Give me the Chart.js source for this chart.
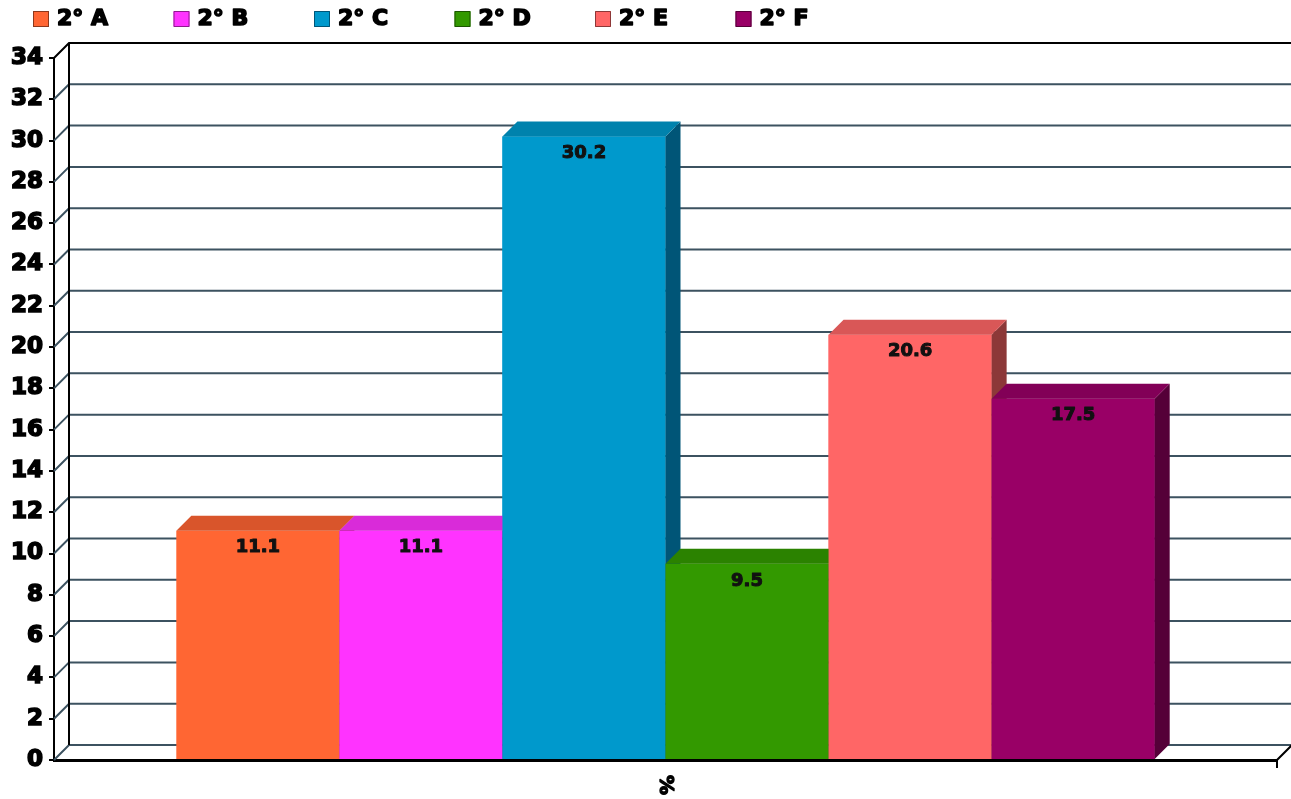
<!DOCTYPE html>
<html>
<head>
<meta charset="utf-8">
<script src="https://cdn.jsdelivr.net/npm/chart.js@4/dist/chart.umd.min.js"></script>
<style>
  html, body { margin: 0; padding: 0; background: #fff; }
  #wrap { width: 1291px; height: 799px; position: relative; }
</style>
</head>
<body>
<div id="wrap"><canvas id="chart"></canvas></div>
<script>
const categories = ['%'];
const groups = ['2° A', '2° B', '2° C', '2° D', '2° E', '2° F'];
const values = [11.1, 11.1, 30.2, 9.5, 20.6, 17.5];
const frontColors = ['#ff6633', '#ff33ff', '#0099cc', '#339900', '#ff6666', '#990066'];
const topColors = ['#d9552b', '#d92bd9', '#0082ad', '#2b8200', '#d95757', '#820057'];
const sideColors = ['#8c381c', '#8c1c8c', '#005577', '#1c5500', '#8c3838', '#550038'];
const yTicks = [0, 2, 4, 6, 8, 10, 12, 14, 16, 18, 20, 22, 24, 26, 28, 30, 32, 34];

const DEPTH = 15;
const FONT = '"DejaVu Sans", sans-serif';

const datasets = groups.map(function(name, i) {
    return {
        label: name,
        data: [values[i]],
        backgroundColor: frontColors[i],
        borderWidth: 0,
        categoryPercentage: 0.8,
        barPercentage: 1.0
    };
});

// heavy text: fill plus a thin stroke of the same colour
function heavyText(ctx, text, x, y, w) {
    ctx.lineWidth = w;
    ctx.lineJoin = 'round';
    ctx.strokeStyle = ctx.fillStyle;
    ctx.strokeText(text, x, y);
    ctx.fillText(text, x, y);
}

// back wall, grid lines and floor, drawn in perspective
const wallPlugin = {
    id: 'wall',
    beforeDatasetsDraw(chart) {
        const ctx = chart.ctx;
        const area = chart.chartArea;
        const y = chart.scales.y;
        ctx.save();
        ctx.lineWidth = 2;
        yTicks.forEach(function(v) {
            const py = y.getPixelForValue(v);
            ctx.strokeStyle = v === yTicks[yTicks.length - 1] ? '#000' : '#3c5260';
            ctx.beginPath();
            ctx.moveTo(area.left, py);
            ctx.lineTo(area.left + DEPTH, py - DEPTH);
            ctx.lineTo(area.right + DEPTH, py - DEPTH);
            ctx.stroke();
        });
        // left wall edge
        ctx.strokeStyle = '#000';
        ctx.beginPath();
        ctx.moveTo(area.left + DEPTH, y.getPixelForValue(34) - DEPTH);
        ctx.lineTo(area.left + DEPTH, y.getPixelForValue(0) - DEPTH);
        ctx.stroke();
        // floor right edge + end tick
        const by = y.getPixelForValue(0);
        ctx.beginPath();
        ctx.moveTo(area.right + DEPTH, by - DEPTH);
        ctx.lineTo(area.right, by);
        ctx.lineTo(area.right, by + 8);
        ctx.stroke();
        ctx.restore();
    }
};

// top and side faces of each bar, then the value label
const boxPlugin = {
    id: 'box3d',
    afterDatasetsDraw(chart) {
        const ctx = chart.ctx;
        const bars = chart.data.datasets.map(function(ds, i) {
            return chart.getDatasetMeta(i).data[0];
        });
        ctx.save();
        bars.forEach(function(bar, i) {
            const xl = bar.x - bar.width / 2;
            const xr = bar.x + bar.width / 2;
            const yt = bar.y;
            const yb = bar.base;
            ctx.fillStyle = sideColors[i];
            ctx.beginPath();
            ctx.moveTo(xr, yt);
            ctx.lineTo(xr + DEPTH, yt - DEPTH);
            ctx.lineTo(xr + DEPTH, yb - DEPTH);
            ctx.lineTo(xr, yb);
            ctx.closePath();
            ctx.fill();
            ctx.fillStyle = topColors[i];
            ctx.beginPath();
            ctx.moveTo(xl, yt);
            ctx.lineTo(xl + DEPTH, yt - DEPTH);
            ctx.lineTo(xr + DEPTH, yt - DEPTH);
            ctx.lineTo(xr, yt);
            ctx.closePath();
            ctx.fill();
            if (bars[i + 1]) bars[i + 1].draw(ctx);
        });
        ctx.fillStyle = '#111';
        ctx.font = 'bold 18px ' + FONT;
        ctx.textAlign = 'center';
        ctx.textBaseline = 'middle';
        bars.forEach(function(bar, i) {
            heavyText(ctx, values[i].toFixed(1), bar.x, bar.y + 17, 1);
        });

        // category label, turned a quarter clockwise
        const x = chart.scales.x;
        ctx.fillStyle = '#000';
        ctx.font = 'bold 20px ' + FONT;
        ctx.translate(x.getPixelForValue(0), 785);
        ctx.rotate(Math.PI / 2);
        heavyText(ctx, categories[0], 0, 0, 1.4);
        ctx.restore();
    }
};

// legend row at the top
const legendPlugin = {
    id: 'topLegend',
    afterDraw(chart) {
        const ctx = chart.ctx;
        ctx.save();
        ctx.font = 'bold 22px ' + FONT;
        ctx.textBaseline = 'middle';
        ctx.textAlign = 'left';
        groups.forEach(function(name, i) {
            const x = 33 + i * 140.5;
            ctx.fillStyle = frontColors[i];
            ctx.fillRect(x, 11, 16, 16);
            ctx.strokeStyle = sideColors[i];
            ctx.lineWidth = 1;
            ctx.strokeRect(x + 0.5, 11.5, 15, 15);
            ctx.fillStyle = '#000';
            heavyText(ctx, name, x + 24, 19, 1.6);
        });
        ctx.restore();
    }
};

new Chart(document.getElementById('chart'), {
    type: 'bar',
    data: { labels: categories, datasets: datasets },
    options: {
        responsive: true,
        maintainAspectRatio: false,
        animation: false,
        layout: { padding: { top: 58, right: 14, left: 0, bottom: 0 } },
        plugins: {
            legend: { display: false },
            tooltip: { enabled: false }
        },
        scales: {
            x: {
                afterFit: function(scale) { scale.height = 39; },
                grid: { display: false },
                border: { display: true, color: '#000', width: 3 },
                ticks: { display: false }
            },
            y: {
                min: 0,
                max: 34,
                afterFit: function(scale) { scale.width = 54; },
                afterBuildTicks: function(scale) {
                    scale.ticks = yTicks.map(function(v) { return { value: v }; });
                },
                grid: { drawOnChartArea: false, drawTicks: true, tickLength: 5, color: '#000', lineWidth: 2 },
                border: { display: true, color: '#000', width: 2 },
                ticks: {
                    color: '#000',
                    padding: 6,
                    textStrokeColor: '#000',
                    textStrokeWidth: 1.6,
                    font: { family: FONT, size: 23, weight: 'bold' }
                }
            }
        }
    },
    plugins: [wallPlugin, boxPlugin, legendPlugin]
});
</script>
</body>
</html>
